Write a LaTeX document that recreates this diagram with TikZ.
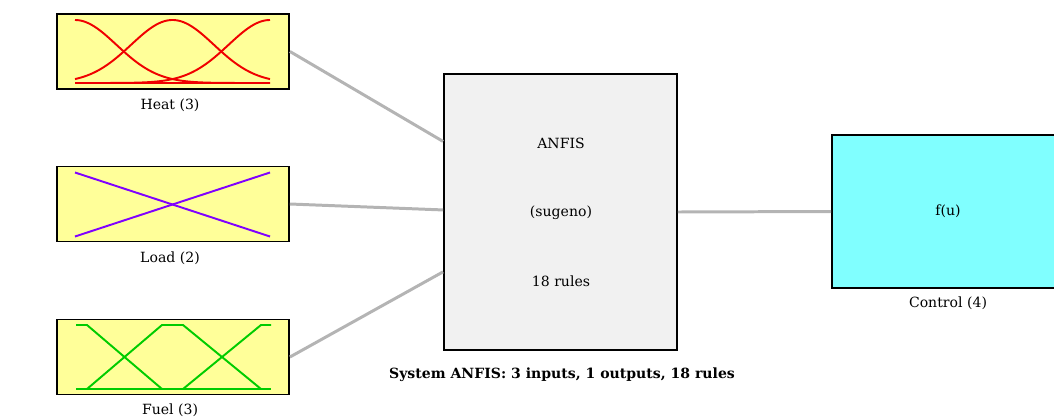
\documentclass[tikz,border=0pt]{standalone}
\usepackage{fontspec}
\setmainfont{DejaVu Serif}
\usepackage{tikz}
\usepackage{color}

\definecolor{mfyellow}{RGB}{255,255,153}
\definecolor{rulegray}{RGB}{241,241,241}
\definecolor{outcyan}{RGB}{128,255,255}
\definecolor{linkgray}{RGB}{180,180,180}
\definecolor{mfred}{RGB}{240,0,0}
\definecolor{mfviolet}{RGB}{128,0,255}
\definecolor{mfgreen}{RGB}{0,204,0}

\begin{document}
\begin{tikzpicture}[%
      x=0.02cm, y=-0.02cm,
      font=\fontsize{8}{9.6}\selectfont,
      mfbox/.style={draw=black, line width=1.1pt, fill=mfyellow,
        minimum width=4.64cm, minimum height=1.5cm, inner sep=0pt},
      link/.style={color=linkgray, line width=1.7pt},
      mf/.style={line width=1.1pt, line join=round},
      ]
      \useasboundingbox (0,0) rectangle (1054,416);

      % inputs
      \node [mfbox] (heat) at (173,51.5) {};
      \node [mfbox] (load) at (173,204) {};
      \node [mfbox] (fuel) at (173,357) {};
      \node (heatlabel) at (170,105) {Heat (3)};
      \node (loadlabel) at (170,258) {Load (2)};
      \node (fuellabel) at (170,410) {Fuel (3)};

      % rule block and output
      \node [draw=black, line width=1.1pt, fill=rulegray, minimum width=4.66cm,
        minimum height=5.52cm, inner sep=0pt] (anfis) at (560.5,212) {};
      \node (anfisname) at (561,143) {ANFIS};
      \node (anfistype) at (561,213) {(sugeno)};
      \node (anfisrules) at (561,281) {18 rules};
      \node [draw=black, line width=1.1pt, fill=outcyan, minimum width=4.64cm,
        minimum height=3.06cm, inner sep=0pt] (control) at (948,211.5) {f(u)};
      \node (controllabel) at (948,303) {Control (4)};
      \node [font=\fontsize{8}{9.6}\selectfont\bfseries] (caption) at (562,375)
        {System ANFIS: 3 inputs, 1 outputs, 18 rules};

      % connections
      \draw [link] (heat.east) -- (anfis.149.4);
      \draw [link] (load.east) -- (anfis.179);
      \draw [link] (fuel.east) -- (anfis.207.6);
      \draw [link] (anfis.east) -- (control.west);

      % Heat: gaussian mfs
      \foreach \c in {75,172.5,270}
        \draw [mf, color=mfred, domain=75:270, samples=80, smooth]
          plot ({\x},{83-63*exp(-0.5*((\x-\c)/41.4)^2)});
      \draw [mf, color=mfred] (75,83) -- (270,83);

      % Load: two linear mfs
      \draw [mf, color=mfviolet] (75,172.5) -- (270,236.5);
      \draw [mf, color=mfviolet] (75,236.5) -- (270,172.5);

      % Fuel: trapezoidal mfs
      \draw [mf, color=mfgreen] (76,325) -- (87,325) -- (162,389);
      \draw [mf, color=mfgreen] (87,389) -- (162,325) -- (183,325) -- (261,389);
      \draw [mf, color=mfgreen] (183,389) -- (261,325) -- (271,325);
      \draw [mf, color=mfgreen] (76,389) -- (271,389);
      \end{tikzpicture}
\end{document}
